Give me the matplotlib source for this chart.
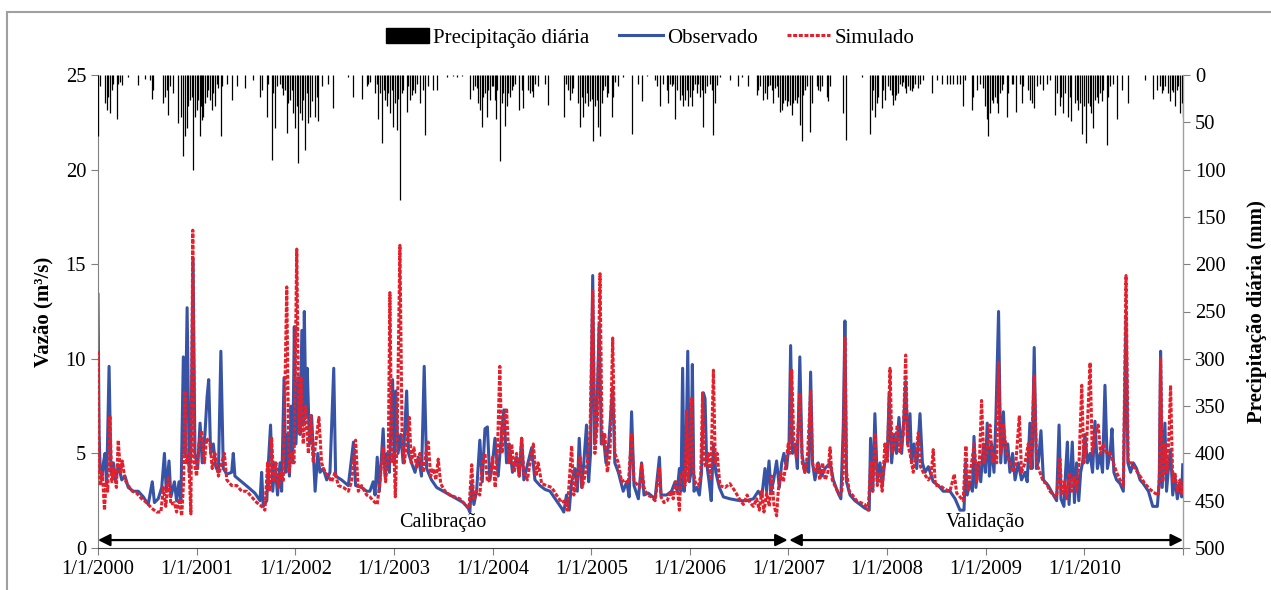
import numpy as np
import pandas as pd
import matplotlib
matplotlib.use("Agg")
import matplotlib.pyplot as plt
import matplotlib.dates as mdates
from matplotlib.patches import Patch, Rectangle
from matplotlib.lines import Line2D

plt.rcParams['font.family'] = ['Liberation Serif', 'DejaVu Serif']

# dia 0 = 1/1/2000
inicio = pd.Timestamp('2000-01-01')
anos = list(range(2000, 2012))
rotulos_x = ['1/1/%d' % a for a in range(2000, 2011)] + ['']

# (dia, vazão m3/s) - observado
obs = [
    (0, 13.4), (4, 6.0), (8, 4.2), (14, 3.6), (20, 4.5), (26, 5.0), (32, 3.3), (41, 9.6), (48, 4.0),
    (57, 4.5), (65, 3.5), (75, 4.4), (88, 3.6), (100, 3.8), (112, 3.2), (131, 3.0), (149, 3.0),
    (168, 2.7), (186, 2.3), (201, 3.5), (209, 2.4), (223, 2.6), (236, 3.2), (246, 5.0), (253, 3.0),
    (263, 4.6), (270, 2.7), (283, 3.5), (291, 2.5), (300, 3.5), (307, 2.4), (316, 10.1), (322, 5.0),
    (330, 12.7), (338, 4.0), (344, 5.0), (352, 15.3), (359, 5.0), (369, 4.2), (378, 6.6), (386, 4.5),
    (396, 6.0), (404, 8.0), (410, 8.9), (417, 5.0), (427, 5.5), (436, 4.3), (446, 4.0), (455, 10.4),
    (464, 4.2), (477, 3.9), (495, 4.0), (501, 5.0), (507, 3.8), (532, 3.5), (557, 3.2), (581, 2.9),
    (600, 2.5), (606, 4.0), (612, 2.2), (625, 2.5), (631, 4.5), (639, 6.5), (647, 3.0), (655, 4.5),
    (665, 2.8), (674, 4.5), (680, 3.0), (689, 9.0), (695, 4.0), (702, 6.0), (709, 3.8), (715, 7.5),
    (721, 4.5), (727, 11.7), (733, 5.5), (742, 9.0), (748, 6.0), (755, 11.5), (760, 6.5), (764, 12.5),
    (770, 7.0), (775, 9.5), (783, 5.5), (791, 7.0), (804, 3.0), (814, 5.0), (822, 4.0), (834, 4.2),
    (847, 3.6), (859, 4.0), (873, 9.5), (880, 3.8), (902, 3.6), (927, 3.3), (946, 5.6), (954, 3.3),
    (976, 3.2), (995, 3.0),
    (1007, 3.0), (1019, 3.5), (1026, 2.8), (1034, 4.8), (1042, 3.0), (1056, 6.3), (1063, 3.8),
    (1071, 5.0), (1079, 4.0), (1091, 8.9), (1097, 4.5), (1103, 8.3), (1111, 5.0), (1121, 6.0),
    (1130, 4.5), (1143, 8.3), (1150, 5.0), (1161, 4.5), (1174, 4.0), (1186, 4.8), (1198, 3.8),
    (1208, 9.6), (1217, 4.2), (1235, 3.6), (1254, 3.2), (1291, 2.9), (1328, 2.6), (1353, 2.4),
    (1371, 2.1), (1377, 1.9), (1384, 3.5), (1392, 2.3), (1402, 3.0), (1414, 5.7), (1423, 3.5),
    (1433, 6.3), (1442, 6.4), (1451, 3.6), (1461, 4.5), (1470, 5.8), (1482, 3.8), (1495, 6.2),
    (1503, 7.3), (1513, 4.5), (1523, 5.5), (1535, 4.0), (1550, 4.8), (1560, 3.8), (1569, 5.8),
    (1577, 3.6), (1587, 4.2), (1606, 5.3), (1618, 3.6), (1637, 3.3), (1655, 3.1), (1674, 3.0),
    (1698, 2.5), (1717, 2.1), (1725, 1.9), (1735, 2.8), (1745, 2.0), (1754, 3.5), (1766, 4.2),
    (1775, 3.0), (1782, 5.8), (1791, 3.2), (1799, 4.5), (1809, 6.5), (1817, 3.5), (1824, 5.0),
    (1832, 14.4), (1839, 5.5), (1846, 6.5), (1856, 11.8), (1864, 5.5), (1871, 6.0), (1881, 4.5),
    (1891, 5.5), (1906, 8.5), (1914, 4.5), (1927, 4.0), (1945, 3.0), (1958, 3.5), (1967, 2.7),
    (1976, 7.2), (1985, 3.3), (2001, 2.6),
    (2013, 4.5), (2022, 2.8), (2038, 2.9), (2063, 2.6), (2079, 4.8), (2085, 2.8), (2106, 2.8),
    (2124, 3.0), (2137, 3.5), (2145, 3.0), (2153, 4.2), (2159, 3.0), (2165, 9.5), (2171, 3.0),
    (2177, 4.5), (2184, 10.4), (2190, 3.5), (2196, 4.0), (2201, 9.7), (2207, 3.0), (2217, 3.2),
    (2227, 2.8), (2235, 4.0), (2242, 8.2), (2248, 7.9), (2254, 4.5), (2263, 3.5), (2271, 2.5),
    (2279, 5.5), (2288, 4.0), (2301, 3.2), (2316, 2.7), (2340, 2.6), (2377, 2.5), (2402, 2.5),
    (2427, 2.6), (2445, 3.0), (2458, 2.7), (2470, 4.2), (2476, 3.0), (2485, 4.6), (2492, 3.0),
    (2501, 3.5), (2513, 4.6), (2523, 3.2), (2532, 4.5), (2540, 5.0), (2550, 4.2), (2559, 5.5),
    (2565, 10.7), (2572, 5.0), (2581, 5.5), (2590, 4.2), (2599, 10.1), (2607, 5.0), (2617, 4.0),
    (2624, 4.5), (2632, 4.0), (2639, 9.3), (2646, 4.5), (2655, 3.6), (2667, 4.5), (2680, 3.8),
    (2692, 4.2), (2711, 4.5), (2723, 3.6), (2738, 3.0), (2751, 2.6), (2760, 6.5), (2766, 12.0),
    (2772, 3.5), (2785, 2.8), (2803, 2.5), (2822, 2.3), (2840, 2.1), (2856, 2.0), (2861, 5.8),
    (2869, 3.0), (2877, 7.1), (2886, 3.5), (2896, 4.5), (2904, 3.3), (2914, 4.6), (2923, 4.8),
    (2930, 8.2), (2939, 4.5), (2948, 6.0), (2957, 5.0), (2966, 6.9), (2976, 5.0), (2985, 7.0),
    (2991, 8.8), (2998, 5.5),
    (3007, 7.1), (3013, 4.5), (3022, 5.5), (3032, 4.2), (3044, 7.1), (3053, 4.5), (3063, 4.0),
    (3075, 4.3), (3093, 3.5), (3112, 3.3), (3130, 3.0), (3155, 3.0), (3174, 2.6), (3192, 2.0),
    (3207, 2.0), (3213, 4.5), (3219, 2.8), (3229, 3.5), (3238, 3.0), (3244, 5.9), (3251, 3.2),
    (3260, 4.5), (3269, 3.5), (3279, 5.5), (3286, 4.0), (3293, 6.6), (3301, 3.8), (3309, 5.5),
    (3318, 4.0), (3325, 6.8), (3335, 12.5), (3343, 4.5), (3353, 7.2), (3360, 4.5), (3369, 5.5),
    (3377, 4.0), (3387, 5.0), (3396, 3.6), (3408, 4.5), (3420, 3.6), (3433, 4.0), (3441, 3.5),
    (3451, 6.6), (3459, 4.2), (3467, 10.6), (3475, 4.2), (3483, 4.6), (3492, 6.2), (3501, 3.6),
    (3519, 3.3), (3538, 2.8), (3550, 2.5), (3559, 6.5), (3566, 2.6), (3577, 2.2), (3583, 4.0),
    (3590, 5.6), (3596, 2.3), (3602, 4.0), (3608, 5.6), (3616, 2.4), (3624, 4.5), (3632, 2.5),
    (3639, 4.0), (3646, 4.5), (3655, 6.0), (3664, 4.5), (3674, 5.0), (3683, 4.0), (3692, 6.7),
    (3701, 4.2), (3711, 5.0), (3720, 4.0), (3729, 8.6), (3738, 4.2), (3748, 5.0), (3755, 6.3),
    (3762, 4.0), (3772, 3.6), (3785, 3.4), (3797, 3.0), (3807, 12.3), (3814, 4.5), (3824, 4.0),
    (3834, 4.5), (3846, 4.2), (3859, 3.6), (3871, 3.4), (3890, 3.0), (3906, 2.2), (3923, 2.2),
    (3930, 3.5), (3935, 10.4), (3941, 3.2), (3951, 6.6), (3957, 3.0), (3966, 4.5), (3972, 5.2),
    (3980, 2.8), (3988, 3.8), (3997, 2.6), (4007, 3.5), (4013, 2.7), (4017, 4.4),
]

# (dia, vazão m3/s) - simulado
sim = [
    (0, 10.4), (4, 4.5), (8, 3.3), (16, 4.0), (24, 2.0), (30, 3.5), (36, 3.0), (44, 7.0), (51, 3.5),
    (59, 4.2), (68, 3.2), (75, 5.7), (83, 4.0), (90, 4.6), (100, 3.6), (112, 3.3), (127, 3.0),
    (143, 2.9), (162, 2.6), (180, 2.4), (199, 2.1), (217, 1.9), (233, 1.9), (242, 3.2), (251, 2.2),
    (261, 3.8), (270, 2.3), (283, 2.4), (291, 1.9), (300, 2.6), (310, 1.7), (317, 3.5), (322, 8.3),
    (328, 4.5), (335, 5.0), (344, 1.8), (351, 16.8), (357, 4.5), (365, 3.8), (374, 5.5), (384, 6.2),
    (394, 4.5), (402, 5.8), (415, 5.5), (423, 4.2), (433, 5.0), (446, 3.8), (458, 4.5), (468, 5.0),
    (477, 3.6), (495, 3.3), (514, 3.3), (532, 3.0), (551, 3.0), (569, 2.7), (588, 2.4), (606, 2.2),
    (618, 2.0), (628, 4.5), (635, 3.0), (643, 5.8), (651, 3.5), (659, 4.5), (668, 3.2), (678, 4.0),
    (686, 3.5), (699, 13.8), (707, 4.0), (717, 5.0), (726, 4.5), (736, 15.8), (744, 6.0), (752, 9.0),
    (760, 5.5), (769, 7.5), (779, 5.0), (788, 7.0), (797, 4.5), (806, 5.5), (818, 6.9), (828, 4.5),
    (841, 4.0), (853, 3.8), (865, 3.5), (878, 4.0), (890, 3.3), (909, 3.2), (927, 3.0), (939, 3.5),
    (954, 5.7), (964, 3.0), (976, 3.3), (995, 2.8),
    (1007, 2.7), (1019, 2.5), (1034, 2.3), (1044, 3.5), (1056, 5.3), (1065, 3.5), (1075, 5.0),
    (1081, 13.5), (1088, 4.5), (1096, 5.0), (1101, 2.7), (1108, 6.0), (1118, 16.0), (1126, 6.0),
    (1134, 4.5), (1143, 5.5), (1153, 6.9), (1160, 4.5), (1170, 5.3), (1180, 4.2), (1192, 5.0),
    (1205, 4.0), (1214, 5.0), (1223, 5.6), (1232, 3.8), (1242, 4.2), (1251, 3.6), (1260, 4.7),
    (1269, 3.4), (1285, 3.0), (1303, 2.8), (1322, 2.7), (1340, 2.6), (1359, 2.3), (1374, 2.1),
    (1384, 4.4), (1392, 2.5), (1402, 3.0), (1414, 2.8), (1423, 4.5), (1433, 5.0), (1442, 3.5),
    (1451, 3.6), (1461, 4.8), (1471, 3.2), (1480, 5.5), (1488, 9.6), (1496, 5.0), (1504, 6.5),
    (1513, 7.4), (1522, 4.5), (1532, 5.5), (1541, 4.0), (1550, 5.0), (1560, 3.8), (1569, 5.8),
    (1577, 4.0), (1590, 3.6), (1600, 4.5), (1612, 5.5), (1622, 3.8), (1630, 4.5), (1643, 3.4),
    (1661, 3.3), (1680, 3.2), (1698, 2.8), (1717, 2.4), (1729, 2.5), (1738, 2.0), (1745, 3.5),
    (1754, 5.4), (1762, 2.8), (1772, 3.5), (1785, 4.8), (1793, 3.2), (1803, 3.8), (1812, 4.5),
    (1822, 6.0), (1832, 13.6), (1840, 5.0), (1849, 6.5), (1859, 14.5), (1867, 5.5), (1877, 6.0),
    (1886, 4.0), (1896, 5.0), (1906, 11.1), (1914, 5.0), (1927, 4.5), (1939, 3.5), (1951, 3.6),
    (1964, 3.4), (1976, 6.0), (1985, 3.5), (1994, 3.4), (2007, 3.2),
    (2013, 4.4), (2022, 3.2), (2034, 2.8), (2050, 2.7), (2063, 2.5), (2079, 4.2), (2085, 2.7),
    (2096, 2.4), (2108, 2.5), (2121, 3.0), (2130, 2.6), (2140, 3.5), (2148, 2.8), (2153, 2.0),
    (2158, 3.8), (2167, 4.0), (2174, 3.3), (2180, 7.3), (2186, 3.5), (2192, 5.0), (2198, 7.9),
    (2205, 4.0), (2213, 3.4), (2223, 3.3), (2232, 3.8), (2239, 8.2), (2245, 4.5), (2251, 4.3),
    (2260, 5.0), (2269, 3.6), (2279, 9.4), (2286, 4.5), (2293, 5.0), (2303, 3.3), (2322, 3.2),
    (2340, 3.4), (2359, 3.0), (2375, 2.6), (2390, 2.3), (2404, 2.8), (2414, 2.4), (2427, 2.2),
    (2439, 2.6), (2449, 2.0), (2458, 3.0), (2466, 1.9), (2476, 2.9), (2486, 2.2), (2495, 3.8),
    (2503, 2.3), (2513, 1.7), (2519, 3.0), (2528, 4.0), (2538, 3.5), (2548, 4.5), (2556, 5.5),
    (2562, 5.0), (2569, 9.4), (2577, 5.5), (2587, 4.8), (2599, 8.2), (2608, 4.5), (2618, 4.0),
    (2628, 5.0), (2639, 8.3), (2646, 4.5), (2655, 4.0), (2665, 4.5), (2673, 3.6), (2683, 4.5),
    (2693, 3.6), (2703, 4.0), (2711, 5.3), (2719, 3.6), (2732, 3.2), (2745, 2.8), (2754, 3.0),
    (2760, 4.0), (2766, 11.1), (2772, 4.0), (2782, 3.0), (2794, 2.8), (2809, 2.5), (2824, 2.4),
    (2840, 2.3), (2852, 2.0), (2862, 4.6), (2869, 3.0), (2877, 6.0), (2886, 3.3), (2896, 4.0),
    (2904, 3.0), (2914, 5.5), (2923, 4.5), (2933, 9.5), (2941, 5.0), (2951, 5.5), (2960, 6.5),
    (2970, 5.0), (2982, 6.0), (2991, 10.2), (2998, 5.5),
    (3007, 5.0), (3019, 4.0), (3029, 5.0), (3038, 6.1), (3046, 4.3), (3056, 4.0), (3075, 3.6),
    (3085, 3.8), (3093, 5.2), (3101, 3.3), (3118, 3.3), (3137, 3.1), (3155, 3.0), (3171, 3.9),
    (3180, 2.9), (3192, 2.7), (3204, 2.5), (3214, 5.4), (3223, 3.0), (3235, 4.5), (3245, 5.5),
    (3254, 3.5), (3264, 4.5), (3272, 7.8), (3281, 4.5), (3291, 5.0), (3303, 6.5), (3313, 4.5),
    (3322, 5.0), (3328, 4.5), (3335, 9.8), (3343, 5.0), (3353, 6.5), (3365, 5.0), (3377, 4.5),
    (3390, 4.0), (3399, 4.5), (3412, 7.0), (3420, 4.0), (3433, 4.5), (3445, 5.5), (3454, 4.2),
    (3467, 9.1), (3476, 4.5), (3488, 4.0), (3501, 3.5), (3513, 3.4), (3525, 3.0), (3538, 2.8),
    (3550, 2.7), (3562, 4.7), (3570, 2.8), (3579, 3.5), (3587, 2.6), (3596, 4.0), (3606, 3.0),
    (3614, 3.8), (3624, 3.0), (3633, 4.5), (3643, 8.6), (3651, 4.5), (3661, 5.5), (3674, 9.8),
    (3682, 5.0), (3692, 6.0), (3704, 6.5), (3713, 5.0), (3723, 5.5), (3735, 5.0), (3748, 5.0),
    (3760, 4.5), (3772, 4.0), (3785, 3.6), (3797, 3.3), (3807, 14.4), (3815, 4.5), (3828, 4.5),
    (3840, 4.2), (3859, 3.8), (3877, 3.4), (3896, 3.1), (3914, 2.9), (3927, 2.8), (3931, 4.0),
    (3935, 10.0), (3943, 3.5), (3951, 5.5), (3959, 4.0), (3966, 6.0), (3972, 8.6), (3980, 3.5),
    (3988, 4.0), (3997, 3.0), (4007, 3.6), (4013, 2.8), (4017, 3.5),
]

# (dia, precipitação mm)
chuva = [
    (1, 65), (7, 12), (26, 30), (32, 37), (38, 23), (44, 40), (51, 16), (57, 9), (69, 46), (75, 9),
    (82, 7), (88, 11), (112, 2), (149, 11), (174, 4), (193, 5), (199, 25), (205, 16),
    (242, 30), (248, 23), (254, 16), (258, 42), (267, 12), (279, 19), (298, 51), (307, 44), (316, 86),
    (322, 65), (328, 56), (335, 33), (341, 26), (347, 23), (353, 100), (359, 44), (365, 37), (372, 26),
    (378, 65), (381, 33), (384, 48), (390, 44), (396, 30), (402, 23), (409, 16), (415, 26), (421, 37),
    (427, 19), (433, 33), (440, 10), (446, 14), (456, 65), (460, 12), (477, 9), (495, 26), (514, 12),
    (544, 14), (575, 5), (600, 23), (606, 16), (625, 44), (631, 10),
    (643, 90), (649, 19), (655, 56), (662, 12), (674, 9), (680, 14), (686, 21), (693, 16), (699, 61),
    (705, 30), (711, 26), (717, 16), (723, 40), (730, 56), (736, 33), (742, 93), (748, 40), (754, 48),
    (760, 26), (767, 79), (773, 19), (779, 51), (785, 44), (791, 28), (804, 44), (810, 23), (816, 49),
    (828, 12), (853, 9), (872, 35), (927, 2), (946, 23), (976, 25), (995, 12), (1001, 9), (1007, 7),
    (1026, 19), (1032, 9), (1038, 47), (1044, 19), (1053, 72), (1058, 16), (1063, 26), (1069, 33),
    (1075, 19), (1081, 40), (1088, 16), (1094, 55), (1100, 30), (1106, 58), (1112, 25), (1118, 132),
    (1125, 19), (1131, 16), (1143, 39), (1149, 12), (1155, 26), (1162, 21), (1168, 16), (1174, 19),
    (1180, 9), (1192, 30), (1205, 16), (1211, 63), (1223, 12), (1242, 16), (1254, 16),
    (1291, 2), (1316, 1), (1328, 2), (1347, 1),
    (1378, 25), (1390, 16), (1396, 12), (1402, 14), (1408, 30), (1415, 37), (1421, 55), (1427, 23),
    (1433, 19), (1439, 44), (1445, 16), (1452, 26), (1458, 12), (1464, 12), (1470, 26), (1474, 47),
    (1479, 16), (1489, 91), (1495, 30), (1501, 19), (1507, 54), (1513, 33), (1520, 19), (1526, 23),
    (1532, 16), (1538, 12), (1544, 9), (1560, 37), (1569, 16), (1575, 35), (1594, 16), (1600, 19),
    (1606, 17), (1612, 23), (1618, 9), (1631, 12), (1655, 10), (1668, 32),
    (1726, 44), (1733, 10), (1742, 16), (1748, 26), (1754, 19), (1760, 14), (1779, 30), (1785, 55),
    (1791, 23), (1797, 44), (1803, 30), (1810, 19), (1816, 33), (1822, 28), (1828, 25), (1834, 70),
    (1840, 33), (1847, 26), (1853, 55), (1859, 65), (1865, 30), (1871, 16), (1877, 12), (1884, 23),
    (1890, 19), (1902, 44), (1908, 23), (1915, 7), (1927, 12), (1945, 2), (1976, 62), (2001, 9),
    (2013, 28), (2032, 1),
    (2063, 5), (2069, 12), (2081, 33), (2093, 9), (2106, 16), (2112, 30), (2118, 9), (2124, 12),
    (2130, 9), (2137, 46), (2143, 16), (2155, 26), (2161, 21), (2167, 33), (2174, 26), (2180, 16),
    (2186, 33), (2192, 23), (2198, 33), (2205, 16), (2211, 9), (2217, 19), (2223, 9), (2229, 23),
    (2235, 16), (2242, 55), (2248, 19), (2254, 12), (2266, 9), (2272, 16), (2279, 63), (2285, 30),
    (2291, 11), (2303, 2), (2340, 5), (2371, 12), (2384, 2), (2408, 12),
    (2439, 21), (2445, 16), (2451, 12), (2464, 26), (2470, 19), (2476, 25), (2482, 12), (2488, 11),
    (2495, 16), (2501, 30), (2507, 14), (2513, 12), (2519, 23), (2525, 39), (2532, 37), (2538, 30),
    (2544, 26), (2550, 33), (2556, 28), (2563, 32), (2569, 42), (2575, 30), (2581, 26), (2587, 30),
    (2593, 23), (2600, 53), (2606, 70), (2612, 21), (2618, 16), (2624, 12), (2637, 60), (2643, 30),
    (2661, 12), (2667, 16), (2674, 17), (2680, 12), (2698, 23), (2704, 28), (2711, 12), (2760, 40),
    (2770, 69), (2828, 2),
    (2859, 62), (2865, 37), (2871, 16), (2877, 44), (2883, 30), (2890, 23), (2902, 35), (2908, 16),
    (2914, 26), (2927, 12), (2933, 16), (2939, 21), (2945, 32), (2951, 26), (2957, 21), (2964, 19),
    (2970, 9), (2976, 12), (2982, 7), (2988, 14), (2994, 19), (3001, 12), (3007, 16), (3013, 17),
    (3019, 14), (3025, 9), (3038, 14), (3044, 9), (3056, 5), (3087, 19), (3106, 5), (3124, 10),
    (3143, 9), (3155, 9), (3167, 9), (3180, 10), (3192, 9), (3202, 33), (3210, 5),
    (3235, 37), (3241, 23), (3254, 16), (3266, 10), (3278, 14), (3284, 33), (3291, 47), (3297, 65),
    (3303, 40), (3309, 26), (3315, 30), (3322, 23), (3328, 30), (3334, 40), (3340, 19), (3346, 16),
    (3352, 9), (3365, 44), (3371, 19), (3383, 10), (3389, 9), (3399, 39), (3414, 9), (3420, 30),
    (3426, 12), (3445, 16), (3451, 26), (3457, 30), (3466, 35), (3476, 12), (3488, 9), (3500, 16),
    (3513, 9), (3525, 5),
    (3544, 42), (3550, 19), (3562, 33), (3568, 23), (3575, 40), (3581, 19), (3593, 44), (3599, 23),
    (3605, 49), (3618, 30), (3624, 26), (3630, 37), (3636, 30), (3645, 62), (3651, 33), (3659, 72),
    (3667, 30), (3673, 33), (3679, 40), (3686, 56), (3692, 26), (3698, 23), (3704, 30), (3710, 19),
    (3717, 28), (3723, 16), (3735, 74), (3741, 23), (3747, 12), (3760, 9), (3775, 46), (3791, 16),
    (3815, 30), (3877, 5),
    (3908, 25), (3920, 16), (3933, 12), (3939, 19), (3945, 16), (3951, 12), (3963, 19), (3970, 28),
    (3976, 16), (3982, 18), (3988, 33), (3994, 16), (4000, 12), (4007, 40), (4013, 30), (4017, 44),
]


def para_datas(pontos):
    dias = np.array([p[0] for p in pontos])
    vals = np.array([p[1] for p in pontos], dtype=float)
    return inicio + pd.to_timedelta(dias, unit='D'), vals


obs_t, obs_q = para_datas(obs)
sim_t, sim_q = para_datas(sim)
chuva_t, chuva_mm = para_datas(chuva)

azul = '#3653a6'
vermelho = '#e3202b'
pontilhado = (0, (1.3, 0.55))
fs = 14.8

fig = plt.figure(figsize=(12.71, 5.90), dpi=100)
ax = fig.add_axes([98 / 1271, 1 - 548 / 590, 1085 / 1271, 473 / 590])
ax2 = ax.twinx()

ax.plot(obs_t, obs_q, color=azul, lw=2.2, zorder=2)
ax.plot(sim_t, sim_q, color=vermelho, lw=2.2, linestyle=pontilhado, zorder=3)

ax2.vlines(chuva_t, 0, chuva_mm, color='black', lw=0.9)
ax2.set_ylim(500, 0)
ax2.set_yticks(np.arange(0, 501, 50))

ax.set_ylim(0, 25)
ax.set_yticks(np.arange(0, 26, 5))
datas_ano = [pd.Timestamp('%d-01-01' % a) for a in anos]
ax.set_xlim(datas_ano[0], datas_ano[-1])
ax.set_xticks(datas_ano)
ax.set_xticklabels(rotulos_x)

for a in (ax, ax2):
    a.spines['top'].set_visible(False)
    a.tick_params(labelsize=fs, direction='out', length=5, color='#808080')
ax.spines['left'].set_color('#808080')
ax.spines['bottom'].set_color('#404040')
ax2.spines['right'].set_color('#a0a0a0')
ax2.spines['left'].set_visible(False)
ax2.spines['bottom'].set_visible(False)

ax.set_ylabel('Vazão (m³/s)', fontsize=15, fontweight='bold')
ax.yaxis.set_label_coords(-0.041, 0.5)
ax2.set_ylabel('Precipitação diária (mm)', fontsize=15, fontweight='bold', rotation=90)
ax2.yaxis.set_label_coords(1.059, 0.5)

# períodos
x0 = mdates.date2num(pd.Timestamp('2000-01-01'))
x1 = mdates.date2num(pd.Timestamp('2007-01-01'))
x2 = mdates.date2num(pd.Timestamp('2011-01-01'))
seta = dict(arrowstyle='<|-|>', color='black', lw=1.6, mutation_scale=18, shrinkA=0, shrinkB=0)
ax.annotate('', xy=(x1 - 3, 0.42), xytext=(x0, 0.42), arrowprops=seta)
ax.annotate('', xy=(x2, 0.42), xytext=(x1 + 3, 0.42), arrowprops=seta)
ax.text((x0 + x1) / 2, 1.35, 'Calibração', ha='center', va='center', fontsize=14.5)
ax.text((x1 + x2) / 2, 1.35, 'Validação', ha='center', va='center', fontsize=14.5)

handles = [Patch(facecolor='black', edgecolor='black'),
           Line2D([], [], color=azul, lw=2.2),
           Line2D([], [], color=vermelho, lw=2.2, linestyle=pontilhado)]
fig.legend(handles, ['Precipitação diária', 'Observado', 'Simulado'],
           loc='center', bbox_to_anchor=(650 / 1271, 1 - 38 / 590), ncol=3, frameon=False,
           fontsize=15, handlelength=2.1, handletextpad=0.2, columnspacing=1.4)

fig.patches.append(Rectangle((7 / 1271, -0.1), 1.2, 1.1 - 12 / 590, transform=fig.transFigure,
                             fill=False, edgecolor='#a0a0a0', lw=1.5))

fig.savefig('out.png', dpi=100)
